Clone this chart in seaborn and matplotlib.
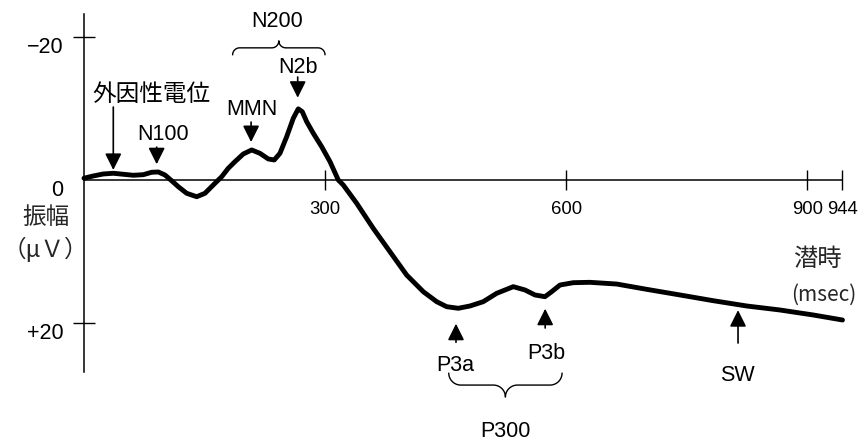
import numpy as np
import pandas as pd
import matplotlib
matplotlib.use("Agg")
import matplotlib.pyplot as plt
import seaborn as sns
from matplotlib.transforms import ScaledTranslation

# ERP waveform: latency (ms) and amplitude (uV, negative plotted upward)
latency_ms = [0, 11.6, 24.0, 36.5, 48.9, 61.4, 73.8, 84.3, 92.5, 100.8,
              109.1, 117.4, 127.8, 140.3, 150.6, 160.9, 171.4, 179.6, 187.9,
              198.3, 208.7, 219.0, 229.4, 236.8, 243.9, 252.3, 260.5, 266.7,
              271.7, 277.2, 285.4, 295.8, 306.2, 316.5, 322.7, 339.4, 360.0,
              380.8, 401.6, 422.3, 439.0, 451.4, 465.8, 480.4, 496.9, 513.6,
              534.3, 548.8, 561.3, 573.7, 582.1, 592.4, 609.0, 629.7, 663.0,
              700.3, 741.8, 783.2, 824.8, 866.2, 907.7, 944]
amplitude_uv = [-0.25, -0.56, -0.84, -0.94, -0.80, -0.66, -0.74, -1.08, -1.12,
                -0.70, 0.10, 0.94, 1.86, 2.34, 1.86, 0.70, -0.46, -1.64, -2.56,
                -3.64, -4.20, -3.73, -2.94, -2.80, -3.73, -6.06, -8.63, -9.95,
                -9.55, -8.15, -6.53, -4.66, -2.56, 0.0, 0.70, 3.26, 6.76, 10.03,
                13.29, 15.62, 17.02, 17.72, 17.94, 17.62, 17.02, 15.85, 14.92,
                15.38, 16.08, 16.32, 15.62, 14.69, 14.36, 14.31, 14.55, 15.29,
                16.08, 16.88, 17.62, 18.18, 18.88, 19.58]

x_ticks = [300, 600, 900, 944]
x_tick_labels = ["300", "600", "900", "944"]
y_ticks = [-20, 0, 20]
y_tick_labels = ["\u221220", "0", "+20"]

# Component arrows: latency, arrow tip and tail (uV)
arrow_lat = [36.5, 90.5, 208, 266, 463, 574, 814]
arrow_tip = [-1.4, -2.2, -5.3, -11.5, 20.1, 18.0, 18.2]
arrow_tail = [-10.2, -4.6, -8.1, -14.4, 22.7, 20.7, 22.8]

# Component labels
label_text = ["外因性電位", "N100", "MMN", "N2b", "N200", "P3a", "P3b", "SW", "P300"]
label_x = [84.6, 98, 209, 266, 240, 462, 576, 813, 524]
label_y = [-11.9, -6.3, -9.8, -15.7, -22.1, 26.0, 24.2, 27.3, 35.2]

sns.set_style("white")
plt.rcParams["font.family"] = ["Liberation Sans", "Noto Sans CJK JP"]
CJK = ["Noto Sans CJK JP", "Liberation Sans"]

fig = plt.figure(figsize=(8.6, 4.42), dpi=100)
ax = fig.add_axes([0, 0, 1, 1])
ax.set_xlim(-104.5, 965.8)
ax.set_ylim(36.64, -25.17)

df = pd.DataFrame({"latency": latency_ms, "amplitude": amplitude_uv})
sns.lineplot(data=df, x="latency", y="amplitude", ax=ax, color="black",
             lw=3.5, sort=False, estimator=None,
             solid_capstyle="round", solid_joinstyle="round")

# Axes drawn through the origin
for side in ("top", "right"):
    ax.spines[side].set_visible(False)
ax.spines["left"].set_position(("data", 0))
ax.spines["bottom"].set_position(("data", 0))
ax.spines["left"].set_bounds(-23.2, 26.85)
ax.spines["bottom"].set_bounds(0, 944)
for side in ("left", "bottom"):
    ax.spines[side].set_linewidth(1.1)
    ax.spines[side].set_color("black")

ax.set_xticks(x_ticks, x_tick_labels)
ax.set_yticks(y_ticks, y_tick_labels)
ax.tick_params(axis="x", bottom=True, direction="inout", length=14.4,
               width=1.0, labelsize=13.3, pad=8, colors="black")
ax.tick_params(axis="y", left=True, direction="inout", length=15.8,
               width=1.0, labelsize=15.5, pad=7, colors="black")
ax.yaxis.get_major_ticks()[1].tick1line.set_visible(False)
shift = ScaledTranslation(0, -6 / 72, fig.dpi_scale_trans)
for lab in ax.get_yticklabels():
    lab.set_transform(lab.get_transform() + shift)
ax.set_xlabel("")
ax.set_ylabel("")
ax.grid(False)

# Axis titles
ax.text(-47, 5.2, "振幅", family=CJK, fontsize=17, ha="center", va="center")
ax.text(-48.5, 9.65, "（μＶ）", family=CJK, fontsize=17, ha="center", va="center")
ax.text(913, 11.0, "潜時", family=CJK, fontsize=17.5, ha="center", va="center")
ax.text(921, 16.1, "(msec)", family=CJK, fontsize=15, ha="center", va="center")

# Component arrows
for lat, tip, tail in zip(arrow_lat, arrow_tip, arrow_tail):
    ax.annotate("", xy=(lat, tip), xytext=(lat, tail),
                arrowprops=dict(arrowstyle="-|>,head_length=1.0,head_width=0.5",
                                mutation_scale=10, color="black", lw=1.2,
                                shrinkA=0, shrinkB=0))

# Component labels
for txt, lx, ly in zip(label_text, label_x, label_y):
    fam = CJK if txt == "外因性電位" else None
    ax.text(lx, ly, txt, fontsize=17 if fam else 15.5, family=fam,
            ha="center", va="center", color="black")


def draw_brace(x0, x1, y, r, upward):
    """Curly brace between x0 and x1, tips at y, radius r in pixels."""
    (px0, py), (px1, _) = ax.transData.transform([(x0, y), (x1, y)])
    s = 1 if upward else -1
    xm = (px0 + px1) / 2
    a1 = np.linspace(np.pi, np.pi / 2, 16)
    hook = np.column_stack([px0 + r + r * np.cos(a1), py + s * r * np.sin(a1)])
    a2 = np.linspace(-np.pi / 2, 0, 16)
    mid = np.column_stack([xm - r + r * np.cos(a2),
                           py + 2 * s * r + s * r * np.sin(a2)])
    left = np.vstack([hook, mid])
    right = left[::-1].copy()
    right[:, 0] = 2 * xm - right[:, 0]
    pts = ax.transData.inverted().transform(np.vstack([left, right]))
    ax.plot(pts[:, 0], pts[:, 1], color="black", lw=1.0)


draw_brace(185, 300, -17.5, 7, upward=True)
draw_brace(454, 595, 27.0, 12, upward=False)

fig.savefig("out.png", dpi=100)
